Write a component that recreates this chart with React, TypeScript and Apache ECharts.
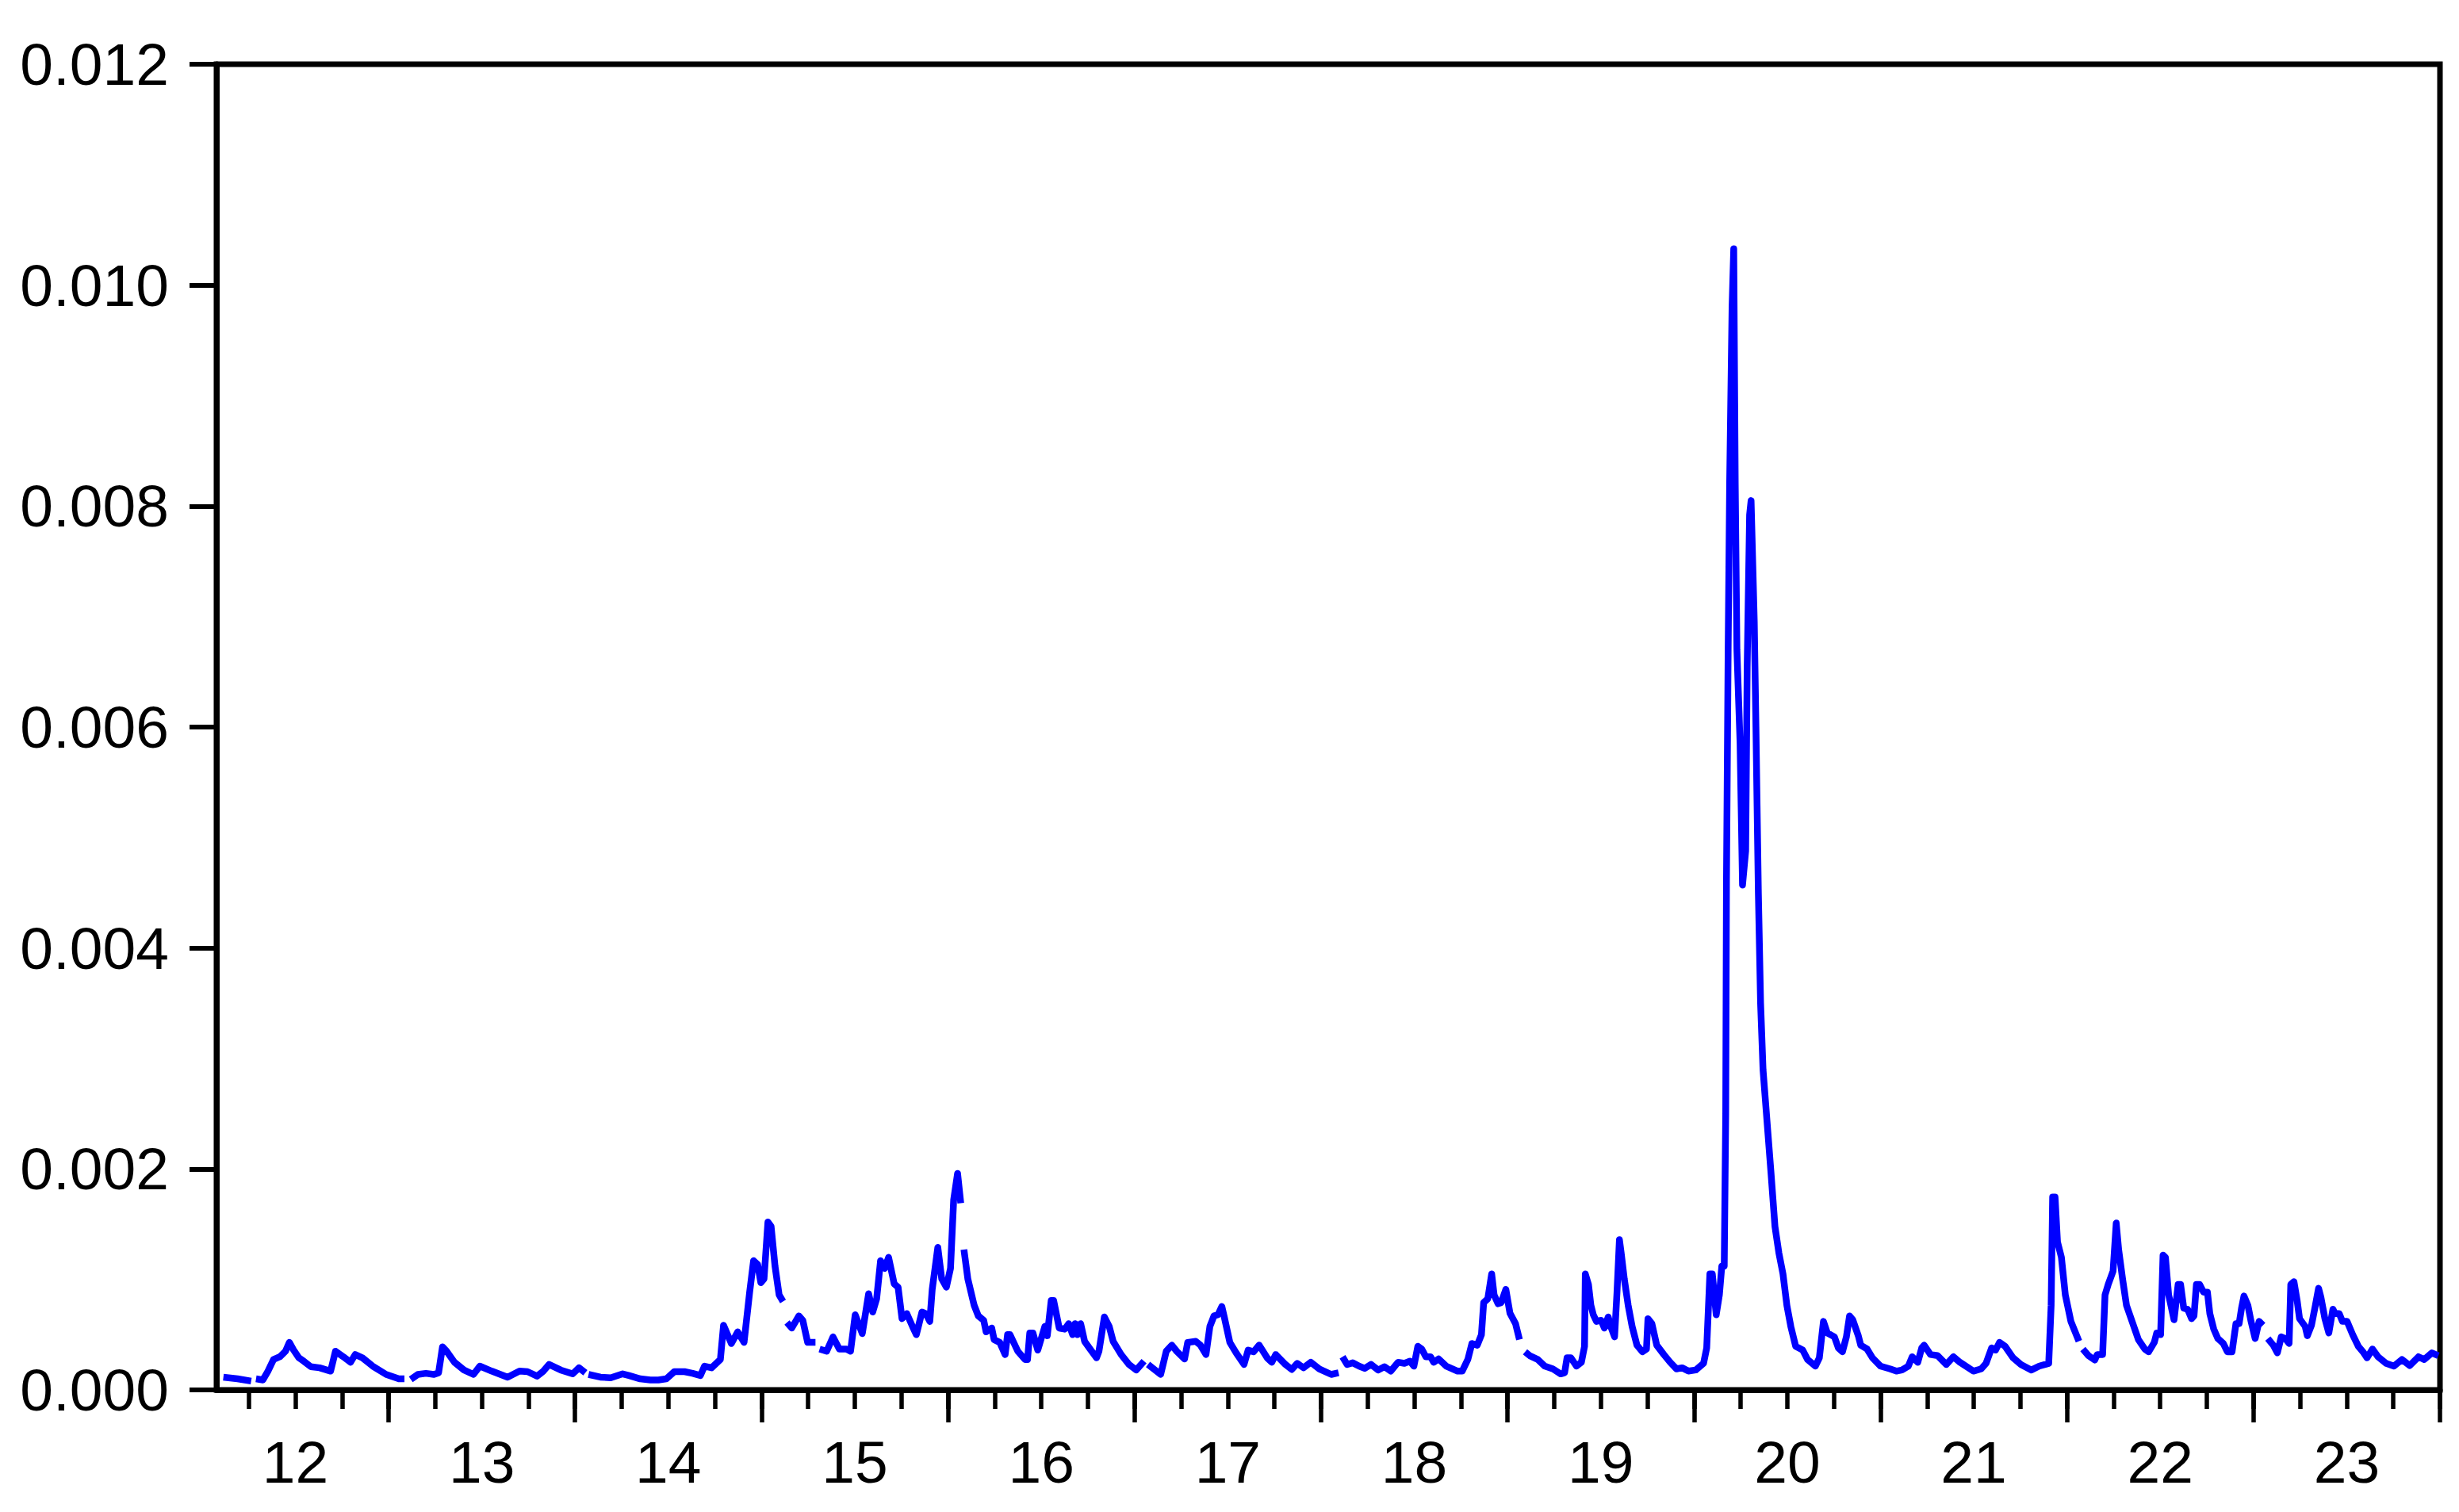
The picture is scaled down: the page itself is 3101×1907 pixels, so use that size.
import React, { useEffect, useRef } from "react";
import * as echarts from "echarts";

// Year axis: labels are centred in each year, long ticks at year starts, short ticks every quarter
const years = [2012, 2013, 2014, 2015, 2016, 2017, 2018, 2019, 2020, 2021, 2022, 2023];
const yearLabels = ["12", "13", "14", "15", "16", "17", "18", "19", "20", "21", "22", "23"];
const xStart = 2012.077;
const xEnd = 2024.0;
const yMin = 0;
const yMax = 0.012;
const yStep = 0.002;

// Values in units of 0.001 ; each array is one unbroken piece of the line (gaps between them)
const segA: [number, number][] = [[2012.114, 0.115], [2012.19, 0.10], [2012.263, 0.08]];
const segB: [number, number][] = [
  [2012.289, 0.10], [2012.326, 0.09], [2012.353, 0.17], [2012.383, 0.275], [2012.417, 0.30], [2012.447, 0.35],
  [2012.468, 0.43], [2012.489, 0.365], [2012.519, 0.29], [2012.545, 0.26], [2012.583, 0.21], [2012.630, 0.20],
  [2012.689, 0.17], [2012.715, 0.35], [2012.757, 0.30], [2012.796, 0.25], [2012.821, 0.32], [2012.860, 0.29],
  [2012.915, 0.215], [2012.987, 0.14], [2013.055, 0.10], [2013.085, 0.10],
];
const segC: [number, number][] = [
  [2013.119, 0.095], [2013.157, 0.14], [2013.200, 0.15], [2013.243, 0.14], [2013.268, 0.155], [2013.289, 0.39],
  [2013.311, 0.35], [2013.353, 0.25], [2013.404, 0.18], [2013.455, 0.14], [2013.489, 0.215], [2013.553, 0.17],
  [2013.638, 0.115], [2013.702, 0.17], [2013.745, 0.165], [2013.796, 0.125], [2013.830, 0.17], [2013.860, 0.23],
  [2013.923, 0.18], [2013.987, 0.145], [2014.021, 0.20], [2014.055, 0.155],
];
const segD: [number, number][] = [
  [2014.072, 0.14], [2014.136, 0.115], [2014.191, 0.11], [2014.255, 0.145], [2014.289, 0.13], [2014.349, 0.10],
  [2014.404, 0.09], [2014.447, 0.09], [2014.489, 0.10], [2014.532, 0.165], [2014.587, 0.165], [2014.630, 0.15],
  [2014.672, 0.13], [2014.694, 0.215], [2014.732, 0.20], [2014.779, 0.275], [2014.796, 0.585], [2014.838, 0.42],
  [2014.872, 0.525], [2014.906, 0.43], [2014.936, 0.885], [2014.957, 1.17], [2014.979, 1.135], [2014.996, 0.97],
  [2015.013, 1.005], [2015.034, 1.52], [2015.051, 1.48], [2015.072, 1.12], [2015.094, 0.86], [2015.115, 0.80],
];
const segE: [number, number][] = [
  [2015.136, 0.61], [2015.162, 0.56], [2015.200, 0.67], [2015.221, 0.63], [2015.247, 0.43], [2015.289, 0.43],
];
const segF: [number, number][] = [
  [2015.311, 0.37], [2015.349, 0.35], [2015.383, 0.48], [2015.417, 0.37], [2015.455, 0.37], [2015.477, 0.35],
  [2015.502, 0.68], [2015.540, 0.51], [2015.574, 0.87], [2015.596, 0.705], [2015.617, 0.825], [2015.638, 1.17],
  [2015.660, 1.10], [2015.681, 1.20], [2015.711, 0.96], [2015.732, 0.93], [2015.753, 0.645], [2015.779, 0.69],
  [2015.809, 0.575], [2015.830, 0.50], [2015.860, 0.705], [2015.881, 0.69], [2015.902, 0.62], [2015.915, 0.91],
  [2015.945, 1.29], [2015.966, 1.005], [2015.991, 0.93], [2016.013, 1.10], [2016.030, 1.72], [2016.051, 1.96],
  [2016.068, 1.69],
];
const segG: [number, number][] = [
  [2016.085, 1.27], [2016.106, 1.005], [2016.140, 0.765], [2016.162, 0.67], [2016.191, 0.63], [2016.204, 0.525],
  [2016.234, 0.56], [2016.247, 0.455], [2016.277, 0.43], [2016.306, 0.32], [2016.319, 0.50], [2016.332, 0.50],
  [2016.374, 0.35], [2016.413, 0.275], [2016.426, 0.275], [2016.438, 0.515], [2016.455, 0.515], [2016.481, 0.36],
  [2016.519, 0.575], [2016.532, 0.49], [2016.553, 0.81], [2016.566, 0.81], [2016.596, 0.56], [2016.626, 0.55],
  [2016.647, 0.60], [2016.668, 0.50], [2016.681, 0.60], [2016.694, 0.50], [2016.711, 0.60], [2016.732, 0.44],
  [2016.757, 0.38], [2016.796, 0.29], [2016.809, 0.35], [2016.838, 0.66], [2016.864, 0.575], [2016.885, 0.44],
  [2016.928, 0.32], [2016.970, 0.23], [2017.009, 0.18], [2017.051, 0.26],
];
const segH: [number, number][] = [
  [2017.072, 0.23], [2017.140, 0.14], [2017.170, 0.35], [2017.200, 0.405], [2017.226, 0.35], [2017.268, 0.28],
  [2017.285, 0.43], [2017.328, 0.44], [2017.353, 0.405], [2017.383, 0.32], [2017.404, 0.575], [2017.426, 0.67],
  [2017.447, 0.68], [2017.468, 0.755], [2017.481, 0.66], [2017.511, 0.43], [2017.545, 0.335], [2017.587, 0.23],
  [2017.609, 0.36], [2017.638, 0.345], [2017.668, 0.405], [2017.711, 0.29], [2017.736, 0.25], [2017.757, 0.32],
  [2017.809, 0.23], [2017.843, 0.185], [2017.872, 0.24], [2017.906, 0.20], [2017.945, 0.25], [2017.991, 0.19],
  [2018.055, 0.14], [2018.094, 0.155],
];
const segI: [number, number][] = [
  [2018.115, 0.30], [2018.140, 0.23], [2018.170, 0.245], [2018.204, 0.215], [2018.234, 0.195], [2018.268, 0.23],
  [2018.306, 0.18], [2018.340, 0.21], [2018.374, 0.17], [2018.413, 0.25], [2018.447, 0.24], [2018.477, 0.26],
  [2018.498, 0.215], [2018.519, 0.395], [2018.540, 0.37], [2018.562, 0.30], [2018.587, 0.30], [2018.604, 0.25],
  [2018.630, 0.28], [2018.672, 0.215], [2018.732, 0.17], [2018.757, 0.17], [2018.787, 0.275], [2018.809, 0.42],
  [2018.838, 0.405], [2018.860, 0.50], [2018.872, 0.79], [2018.894, 0.825], [2018.915, 1.05], [2018.928, 0.86],
  [2018.949, 0.78], [2018.966, 0.79], [2018.991, 0.91], [2019.013, 0.695], [2019.043, 0.60], [2019.064, 0.455],
];
const segJ: [number, number][] = [
  [2019.094, 0.345], [2019.119, 0.31], [2019.162, 0.275], [2019.200, 0.215], [2019.243, 0.19], [2019.285, 0.145],
  [2019.306, 0.155], [2019.319, 0.29], [2019.340, 0.29], [2019.370, 0.215], [2019.396, 0.25], [2019.413, 0.395],
  [2019.417, 1.05], [2019.434, 0.955], [2019.447, 0.765], [2019.460, 0.68], [2019.477, 0.62], [2019.502, 0.63],
  [2019.519, 0.56], [2019.540, 0.66], [2019.553, 0.575], [2019.574, 0.48], [2019.587, 0.885], [2019.600, 1.36],
  [2019.609, 1.245], [2019.626, 1.005], [2019.647, 0.765], [2019.668, 0.575], [2019.694, 0.405], [2019.723, 0.345],
  [2019.745, 0.37], [2019.753, 0.645], [2019.774, 0.60], [2019.800, 0.405], [2019.838, 0.32], [2019.872, 0.25],
  [2019.906, 0.19], [2019.936, 0.20], [2019.970, 0.17], [2020.009, 0.18], [2020.051, 0.24], [2020.068, 0.38],
  [2020.085, 1.05], [2020.098, 1.05], [2020.119, 0.68], [2020.136, 0.86], [2020.149, 1.12], [2020.162, 1.12],
  [2020.170, 2.5], [2020.174, 4.6], [2020.183, 6.7], [2020.191, 8.2], [2020.204, 9.8], [2020.213, 10.33],
  [2020.221, 8.2], [2020.230, 6.7], [2020.247, 5.85], [2020.260, 4.57], [2020.277, 4.88], [2020.285, 6.54],
  [2020.298, 7.92], [2020.306, 8.05], [2020.323, 6.96], [2020.332, 6.0], [2020.345, 4.5], [2020.357, 3.5],
  [2020.370, 2.9], [2020.391, 2.44], [2020.413, 1.96], [2020.434, 1.48], [2020.455, 1.24], [2020.477, 1.05],
  [2020.498, 0.765], [2020.519, 0.575], [2020.545, 0.395], [2020.583, 0.36], [2020.609, 0.275], [2020.651, 0.215],
  [2020.672, 0.29], [2020.694, 0.62], [2020.715, 0.515], [2020.753, 0.48], [2020.774, 0.38], [2020.796, 0.345],
  [2020.817, 0.48], [2020.834, 0.67], [2020.851, 0.635], [2020.881, 0.49], [2020.894, 0.405], [2020.928, 0.37],
  [2020.957, 0.29], [2021.000, 0.215], [2021.051, 0.19], [2021.085, 0.17], [2021.115, 0.18], [2021.149, 0.215],
  [2021.170, 0.30], [2021.200, 0.25], [2021.221, 0.38], [2021.234, 0.405], [2021.268, 0.32], [2021.306, 0.31],
  [2021.353, 0.23], [2021.391, 0.30], [2021.426, 0.25], [2021.498, 0.17], [2021.540, 0.19], [2021.566, 0.24],
  [2021.596, 0.38], [2021.617, 0.36], [2021.638, 0.43], [2021.668, 0.395], [2021.711, 0.29], [2021.753, 0.23],
  [2021.809, 0.18], [2021.851, 0.215], [2021.902, 0.24], [2021.915, 0.765], [2021.923, 1.745], [2021.936, 1.745],
  [2021.949, 1.34], [2021.970, 1.20], [2021.991, 0.86], [2022.021, 0.62], [2022.064, 0.44],
];
const segK: [number, number][] = [
  [2022.085, 0.37], [2022.115, 0.31], [2022.149, 0.27], [2022.162, 0.32], [2022.191, 0.32], [2022.204, 0.86],
  [2022.221, 0.955], [2022.247, 1.075], [2022.264, 1.51], [2022.277, 1.27], [2022.298, 1.005], [2022.319, 0.765],
  [2022.349, 0.62], [2022.383, 0.455], [2022.417, 0.37], [2022.438, 0.345], [2022.468, 0.43], [2022.481, 0.515],
  [2022.502, 0.50], [2022.515, 1.22], [2022.528, 1.20], [2022.545, 0.86], [2022.574, 0.635], [2022.596, 0.955],
  [2022.609, 0.955], [2022.626, 0.74], [2022.647, 0.73], [2022.668, 0.645], [2022.681, 0.67], [2022.694, 0.955],
  [2022.711, 0.955], [2022.732, 0.885], [2022.753, 0.885], [2022.766, 0.69], [2022.787, 0.55], [2022.809, 0.465],
  [2022.838, 0.42], [2022.860, 0.345], [2022.885, 0.345], [2022.906, 0.60], [2022.923, 0.60], [2022.936, 0.74],
  [2022.949, 0.85], [2022.970, 0.765], [2022.987, 0.62], [2023.009, 0.465], [2023.030, 0.62], [2023.051, 0.585],
];
const segL: [number, number][] = [
  [2023.077, 0.465], [2023.106, 0.405], [2023.128, 0.335], [2023.149, 0.48], [2023.170, 0.465], [2023.191, 0.42],
  [2023.200, 0.955], [2023.217, 0.98], [2023.234, 0.81], [2023.247, 0.645], [2023.277, 0.575], [2023.289, 0.49],
  [2023.311, 0.585], [2023.332, 0.765], [2023.349, 0.92], [2023.362, 0.835], [2023.383, 0.645], [2023.404, 0.515],
  [2023.426, 0.73], [2023.438, 0.69], [2023.460, 0.69], [2023.477, 0.62], [2023.502, 0.62], [2023.532, 0.50],
  [2023.562, 0.395], [2023.587, 0.345], [2023.609, 0.29], [2023.638, 0.37], [2023.668, 0.30], [2023.711, 0.24],
  [2023.753, 0.215], [2023.796, 0.275], [2023.838, 0.22], [2023.885, 0.30], [2023.915, 0.275], [2023.957, 0.335],
  [2023.991, 0.31],
];
const segments = [segA, segB, segC, segD, segE, segF, segG, segH, segI, segJ, segK, segL];

function buildData(): [number, number | null][] {
  const out: [number, number | null][] = [];
  segments.forEach((seg, i) => {
    if (i > 0) {
      const prev = segments[i - 1];
      out.push([(prev[prev.length - 1][0] + seg[0][0]) / 2, null]);
    }
    seg.forEach(([x, v]) => out.push([x, v / 1000]));
  });
  return out;
}

const FONT = "'Liberation Sans', Arial, sans-serif";

export default function App() {
  const ref = useRef<HTMLDivElement>(null);
  useEffect(() => {
    if (!ref.current) return;
    const chart = echarts.init(ref.current, undefined, { renderer: "svg" });
    const quarterTicks: number[] = [];
    years.forEach((y) => {
      [0.25, 0.5, 0.75, 1].forEach((q) => quarterTicks.push(y + q));
    });
    const yearTicks = years.map((y) => y + 1);
    const labelPos = years.map((y) => y + 0.5);
    chart.setOption({
      animation: false,
      backgroundColor: "#ffffff",
      grid: {
        left: 273,
        right: 24,
        top: 81,
        bottom: 154,
        show: true,
        borderColor: "#000000",
        borderWidth: 7,
        containLabel: false,
      },
      xAxis: [
        {
          type: "value",
          min: xStart,
          max: xEnd,
          splitLine: { show: false },
          axisLine: { show: true, onZero: false, lineStyle: { color: "#000", width: 7 } },
          axisTick: { show: true, length: 24, customValues: quarterTicks, lineStyle: { color: "#000", width: 5.5 } },
          axisLabel: {
            show: true,
            customValues: labelPos,
            margin: 53,
            fontSize: 75,
            fontFamily: FONT,
            color: "#000",
            formatter: (v: number) => yearLabels[years.indexOf(Math.round(v - 0.5))] ?? "",
          },
        },
        {
          type: "value",
          position: "bottom",
          min: xStart,
          max: xEnd,
          splitLine: { show: false },
          axisLine: { show: false },
          axisTick: { show: true, length: 41, customValues: yearTicks, lineStyle: { color: "#000", width: 5.5 } },
          axisLabel: { show: false },
        },
      ],
      yAxis: {
        type: "value",
        min: yMin,
        max: yMax,
        interval: yStep,
        splitLine: { show: false },
        axisLine: { show: true, lineStyle: { color: "#000", width: 7 } },
        axisTick: { show: true, length: 34, lineStyle: { color: "#000", width: 6 } },
        axisLabel: {
          margin: 60,
          fontSize: 75,
          fontFamily: FONT,
          color: "#000",
          formatter: (v: number) => v.toFixed(3),
        },
      },
      series: [
        {
          type: "line",
          xAxisIndex: 0,
          data: buildData(),
          showSymbol: false,
          symbol: "none",
          connectNulls: false,
          lineStyle: { color: "#0000ff", width: 8.5, join: "round", cap: "butt" },
        },
      ],
    });
    return () => chart.dispose();
  }, []);
  return (
    <div
      ref={ref}
      style={{ position: "absolute", left: 0, top: 0, width: 3101, height: 1907, background: "#fff" }}
    />
  );
}
